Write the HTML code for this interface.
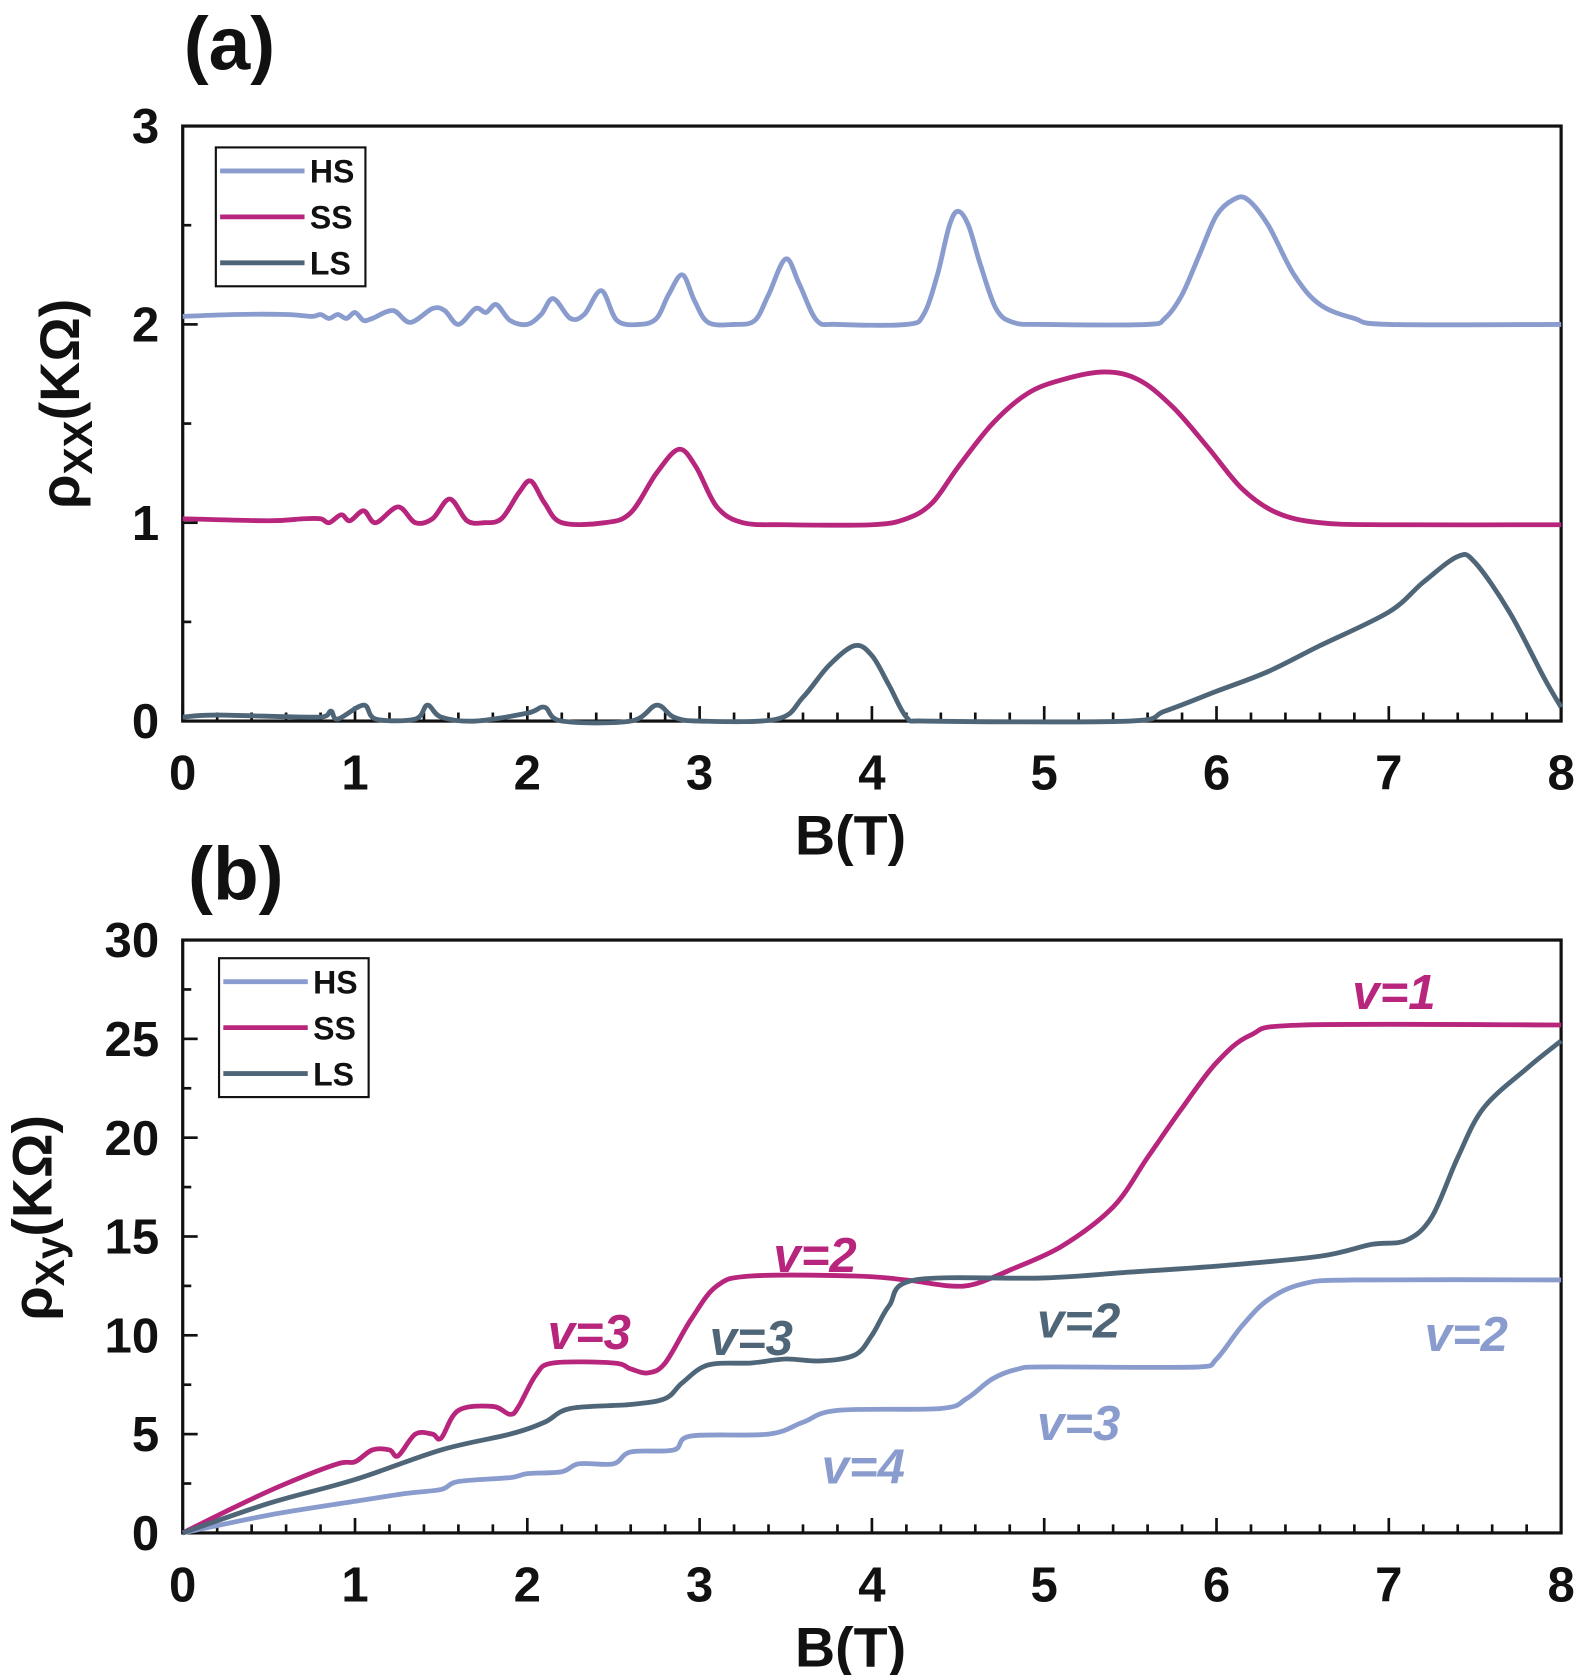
<!DOCTYPE html>
<html><head><meta charset="utf-8"><style>
html,body{margin:0;padding:0;background:#fff;}
svg{display:block;}
text{font-family:"Liberation Sans",Arial,sans-serif;font-weight:bold;}
</style></head><body>
<svg id="fig" width="1575" height="1675" viewBox="0 0 1474 1568" preserveAspectRatio="none" xmlns="http://www.w3.org/2000/svg">
<text x="172" y="65" font-size="70" fill="#111">(a)</text>
<text x="176" y="842" font-size="70" fill="#111">(b)</text>
<g id="pa"></g>
<g id="pb"></g>
</svg>
<script>
const xTicks=[0,1,2,3,4,5,6,7,8];
const aYTicks=[0,1,2,3];
const bYTicks=[0,5,10,15,20,25,30];
const aHS=[[0,2.04],[0.3,2.05],[0.6,2.05],[0.75,2.04],[0.8,2.05],[0.85,2.03],[0.9,2.05],[0.95,2.03],[1.0,2.06],[1.05,2.02],[1.1,2.03],[1.22,2.07],[1.32,2.01],[1.45,2.08],[1.52,2.07],[1.6,2.0],[1.7,2.08],[1.76,2.06],[1.82,2.1],[1.9,2.02],[2.0,2.0],[2.08,2.05],[2.15,2.13],[2.25,2.03],[2.33,2.05],[2.43,2.17],[2.52,2.02],[2.65,2.0],[2.75,2.03],[2.82,2.15],[2.9,2.25],[2.97,2.12],[3.05,2.01],[3.2,2.0],[3.32,2.02],[3.4,2.15],[3.5,2.33],[3.58,2.2],[3.68,2.02],[3.8,2.0],[4.2,2.0],[4.3,2.05],[4.38,2.25],[4.45,2.5],[4.5,2.57],[4.56,2.5],[4.63,2.3],[4.72,2.08],[4.82,2.01],[5.0,2.0],[5.6,2.0],[5.7,2.03],[5.8,2.15],[5.9,2.35],[6.0,2.55],[6.1,2.63],[6.18,2.63],[6.3,2.5],[6.45,2.25],[6.6,2.1],[6.8,2.03],[7.0,2.0],[8,2.0]];
const aSS=[[0,1.02],[0.5,1.01],[0.7,1.02],[0.8,1.02],[0.85,1.0],[0.92,1.04],[0.97,1.01],[1.05,1.06],[1.12,1.0],[1.25,1.08],[1.35,1.0],[1.45,1.02],[1.55,1.12],[1.65,1.01],[1.75,1.0],[1.85,1.02],[1.95,1.15],[2.02,1.21],[2.1,1.1],[2.2,1.0],[2.45,1.0],[2.6,1.05],[2.75,1.25],[2.88,1.37],[2.98,1.28],[3.1,1.08],[3.25,1.0],[3.5,0.99],[4.0,0.99],[4.2,1.02],[4.35,1.1],[4.5,1.28],[4.7,1.5],[4.9,1.65],[5.1,1.72],[5.35,1.76],[5.55,1.72],[5.75,1.58],[5.95,1.38],[6.15,1.17],[6.35,1.05],[6.6,1.0],[7,0.99],[8,0.99]];
const aLS=[[0,0.02],[0.2,0.03],[0.8,0.02],[0.86,0.05],[0.9,0.01],[1.05,0.08],[1.12,0.01],[1.35,0.01],[1.42,0.08],[1.5,0.02],[1.7,0.0],[2.0,0.04],[2.1,0.07],[2.2,0.0],[2.6,0.0],[2.75,0.08],[2.85,0.02],[3.0,0.0],[3.45,0.01],[3.6,0.12],[3.75,0.28],[3.9,0.38],[4.0,0.33],[4.1,0.18],[4.2,0.02],[4.3,0.0],[5.5,0.0],[5.7,0.05],[6.0,0.15],[6.3,0.25],[6.6,0.38],[7.0,0.55],[7.2,0.7],[7.4,0.83],[7.5,0.8],[7.7,0.55],[7.9,0.22],[8.0,0.07]];
const bSS=[[0,0],[0.3,1.3],[0.6,2.5],[0.9,3.5],[1.0,3.6],[1.1,4.2],[1.2,4.2],[1.25,3.9],[1.35,5.0],[1.45,5.0],[1.5,4.8],[1.6,6.2],[1.8,6.4],[1.9,6.0],[1.95,6.4],[2.05,8.0],[2.15,8.6],[2.5,8.6],[2.6,8.3],[2.7,8.1],[2.8,8.6],[2.95,10.8],[3.1,12.5],[3.3,13.0],[3.9,13.0],[4.2,12.8],[4.45,12.5],[4.6,12.6],[4.8,13.3],[5.1,14.5],[5.4,16.5],[5.6,19],[5.8,21.5],[6.0,23.8],[6.2,25.2],[6.5,25.7],[8,25.7]];
const bLS=[[0,0],[0.5,1.5],[1.0,2.7],[1.5,4.2],[1.9,5.0],[2.1,5.6],[2.25,6.3],[2.6,6.5],[2.8,6.8],[2.9,7.6],[3.05,8.5],[3.3,8.6],[3.5,8.8],[3.7,8.7],[3.9,9.0],[4.0,10.0],[4.1,11.5],[4.25,12.8],[5.0,12.9],[5.5,13.2],[6.0,13.5],[6.6,14.0],[6.9,14.6],[7.1,14.8],[7.25,16.0],[7.4,19.0],[7.55,21.5],[7.8,23.5],[8,24.9]];
const bHS=[[0,0],[0.5,0.9],[1.0,1.6],[1.3,2.0],[1.5,2.2],[1.6,2.6],[1.9,2.8],[2.0,3.0],[2.2,3.1],[2.3,3.5],[2.5,3.5],[2.6,4.1],[2.85,4.2],[2.95,4.9],[3.4,5.0],[3.6,5.6],[3.8,6.2],[4.4,6.3],[4.55,6.8],[4.7,7.8],[4.85,8.3],[5.0,8.4],[5.9,8.4],[6.0,8.8],[6.15,10.5],[6.3,11.8],[6.5,12.6],[6.8,12.8],[8,12.8]];
const seriesNames=["HS","SS","LS"];
const bLabels=[["v=1",7.03,26.5,"SS"],["v=2",3.67,13.2,"SS"],["v=3",2.36,9.3,"SS"],["v=3",3.3,9.0,"LS"],["v=2",5.2,9.9,"LS"],["v=2",7.45,9.2,"HS"],["v=3",5.2,4.7,"HS"],["v=4",3.95,2.5,"HS"]];
const colors={HS:"#8a9cce",SS:"#b7257c",LS:"#4f6678"};
const NS="http://www.w3.org/2000/svg";
function mk(p,tag,attrs){const e=document.createElementNS(NS,tag);for(const k in attrs)e.setAttribute(k,attrs[k]);p.appendChild(e);return e;}
function smooth(pts){
  let d='M'+pts[0][0].toFixed(1)+','+pts[0][1].toFixed(1);
  for(let i=0;i<pts.length-1;i++){
    const p0=pts[Math.max(0,i-1)],p1=pts[i],p2=pts[i+1],p3=pts[Math.min(pts.length-1,i+2)];
    const k=1/6;
    let c1x=p1[0]+(p2[0]-p0[0])*k,c1y=p1[1]+(p2[1]-p0[1])*k;
    let c2x=p2[0]-(p3[0]-p1[0])*k,c2y=p2[1]-(p3[1]-p1[1])*k;
    c1x=Math.min(Math.max(c1x,p1[0]),p2[0]);c2x=Math.min(Math.max(c2x,p1[0]),p2[0]);
    d+='C'+c1x.toFixed(1)+','+c1y.toFixed(1)+' '+c2x.toFixed(1)+','+c2y.toFixed(1)+' '+p2[0].toFixed(1)+','+p2[1].toFixed(1);
  }
  return d;
}
function panel(g,x0,x1,yb,yt,ymax,yTicks,minorY,data,leg){
  const X=v=>x0+(x1-x0)*v/8, Y=v=>yb-(yb-yt)*v/ymax;
  const fr=mk(g,'rect',{x:x0,y:yt,width:x1-x0,height:yb-yt,fill:'none',stroke:'#111','stroke-width':3});
  
  for(let i=0;i<=40;i++){const v=i*0.2,maj=i%5==0;const t=mk(g,'line',{x1:X(v),x2:X(v),y1:yb,y2:yb-(maj?14:8),stroke:'#111','stroke-width':2.5});
    }
  for(let v=0;v<=ymax+1e-9;v+=minorY){const maj=yTicks.some(t=>Math.abs(t-v)<1e-6);const t=mk(g,'line',{x1:x0,x2:x0+(maj?14:8),y1:Y(v),y2:Y(v),stroke:'#111','stroke-width':2.5});
    }
  xTicks.forEach(v=>{const t=mk(g,'text',{x:X(v),y:yb+64,'font-size':46,'text-anchor':'middle',fill:'#111'});t.textContent=v;
    });
  yTicks.forEach(v=>{const t=mk(g,'text',{x:x0-22,y:Y(v)+16,'font-size':46,'text-anchor':'end',fill:'#111'});t.textContent=v;
    });
  data.forEach((d,i)=>{const nm=seriesNames[i];const p=mk(g,'path',{d:smooth(d.map(q=>[X(q[0]),Y(q[1])])),fill:'none',stroke:colors[nm],'stroke-width':4.5,'stroke-linejoin':'round'});
    });
  const lb=mk(g,'rect',{x:leg[0],y:leg[1],width:140,height:130,fill:'#fff',stroke:'#111','stroke-width':2});
  
  seriesNames.forEach((nm,i)=>{const yy=leg[1]+22+i*43;
    const l=mk(g,'line',{x1:leg[0]+4,x2:leg[0]+83,y1:yy,y2:yy,stroke:colors[nm],'stroke-width':4.5});
    
    const t=mk(g,'text',{x:leg[0]+88,y:yy+11,'font-size':30,fill:'#111'});t.textContent=nm;
    });
  const xt=mk(g,'text',{x:(x0+x1)/2-20,y:yb+125,'font-size':52,'text-anchor':'middle',fill:'#111'});xt.textContent='B(T)';
  
  return {X,Y};
}
const pa=document.getElementById('pa'),pb=document.getElementById('pb');
panel(pa,171,1461,675,118,3,aYTicks,0.5,[aHS,aSS,aLS],[202,138]);
const B=panel(pb,171,1461,1435,880,30,bYTicks,2.5,[bHS,bSS,bLS],[205,897]);
function ytitle(g,x,y,sub,name){const t=mk(g,'text',{transform:`translate(${x},${y}) rotate(-90)`,'font-size':52,'text-anchor':'middle',fill:'#111'});
  t.innerHTML='ρ<tspan font-size="38" dy="12">'+sub+'</tspan><tspan dy="-12">(KΩ)</tspan>';
  }
ytitle(pa,74,378,'XX','y-axis-title-a');
ytitle(pb,48,1140,'Xy','y-axis-title-b');
bLabels.forEach(l=>{const t=mk(pb,'text',{x:B.X(l[1]),y:B.Y(l[2]),'font-size':46,'font-style':'italic','text-anchor':'middle'});
  t.style.fill=colors[l[3]];
  t.textContent=l[0];
  
  });
</script>
</body></html>
